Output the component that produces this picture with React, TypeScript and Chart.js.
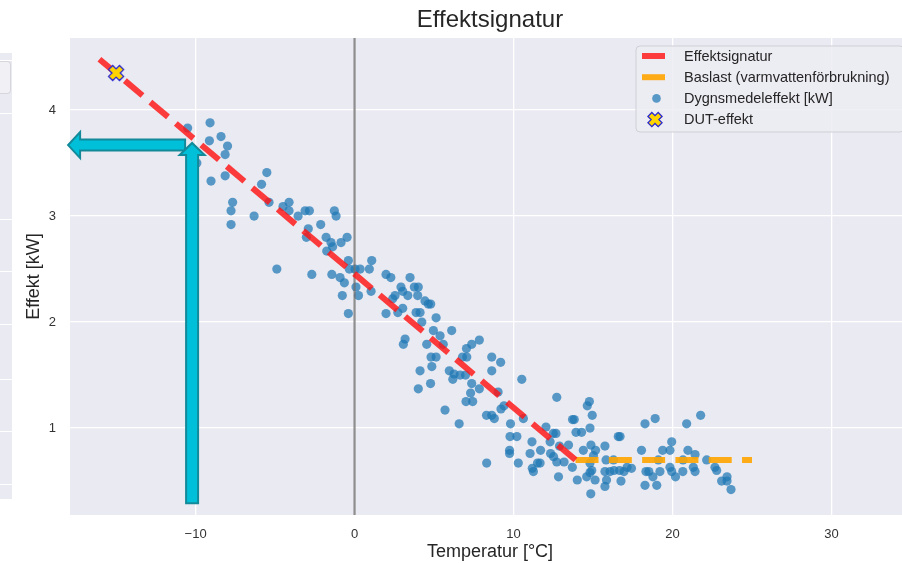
import React, { useEffect, useRef } from "react";
import { Chart, registerables } from "chart.js";

Chart.register(...registerables);

// ---------- data ----------
const temperatures = [
  -10.5, -9.09, -9.13, -8.4, -7.99, -8.14, -9.92, -9.03, -8.14, -5.52,
  -5.85, -7.67, -7.77, -7.77, -6.32, -5.38, -4.5, -4.12, -4.12, -3.55,
  -3.11, -2.84, -1.27, -1.16, -2.13, -2.91, -3.03, -1.79, -1.48, -1.38,
  -1.75, -0.85, -0.47, -0.39, -0.33, 0.03, 0.35, 1.08, 0.93, -4.89,
  -2.69, -1.43, -0.91, -0.64, -0.77, -0.39, 0.09, 0.25, 1.04, 1.98,
  2.28, 3.49, 2.92, 2.55, 2.4, 3.03, 3.35, 3.76, 4.01, 3.97,
  4.43, 4.64, 4.79, 1.98, 2.72, 3.03, 3.87, 4.12, 5.13, 4.23,
  4.96, 5.38, 6.11, 3.18, 3.07, 4.54, 5.58, 7.04, 7.37, 7.85,
  4.81, 5.13, 4.86, 5.96, 6.26, 6.18, 6.64, 6.98, 6.79, 7.06,
  4.12, 4.01, 4.78, 7.37, 7.3, 7.01, 7.43, 7.85, 5.69, 6.58,
  8.63, 9.19, 8.63, 9.03, 8.3, 8.63, 8.79, 9.21, 9.4, 10.52,
  9.81, 9.78, 10.21, 9.75, 9.75, 8.31, 10.3, 10.62, 11.16, 11.04,
  11.51, 11.18, 11.25, 11.7, 12.04, 12.5, 12.67, 12.33, 12.52, 12.72,
  12.72, 12.83, 12.89, 13.46, 13.18, 13.7, 13.71, 13.82, 13.93, 14.28,
  14.01, 14.39, 14.64, 14.77, 14.95, 14.81, 14.87, 15.16, 15.03, 14.81,
  14.92, 14.6, 14.81, 15.13, 14.86, 11.67, 12.3, 15.75, 16.59, 16.7,
  15.82, 16.29, 15.75, 16.07, 16.32, 16.67, 16.95, 17.14, 17.42, 15.85,
  15.75, 16.76, 18.05, 18.27, 18.91, 18.33, 18.51, 18.77, 18.27, 19.01,
  19.21, 19.11, 19.38, 19.84, 19.95, 19.84, 19.95, 20.19, 20.65, 20.66,
  20.89, 20.97, 21.42, 21.31, 21.42, 21.77, 22.15, 22.67, 22.78, 23.09,
  23.43, 23.43, 23.68,
];
const dailyPower = [
  3.83, 3.88, 3.71, 3.75, 3.66, 3.58, 3.5, 3.33, 3.38, 3.41,
  3.3, 3.13, 3.05, 2.92, 3.0, 3.13, 3.09, 3.13, 3.05, 3.0,
  3.05, 3.05, 3.05, 3.0, 2.92, 2.88, 2.8, 2.8, 2.75, 2.71,
  2.67, 2.75, 2.8, 2.58, 2.5, 2.5, 2.5, 2.58, 2.5, 2.5,
  2.45, 2.45, 2.42, 2.37, 2.25, 2.08, 2.33, 2.25, 2.29, 2.45,
  2.42, 2.42, 2.33, 2.25, 2.22, 2.29, 2.25, 2.33, 2.33, 2.25,
  2.2, 2.17, 2.17, 2.08, 2.09, 2.13, 2.09, 2.09, 2.04, 2.0,
  1.92, 1.87, 1.92, 1.84, 1.79, 1.79, 1.79, 1.75, 1.79, 1.83,
  1.67, 1.67, 1.58, 1.54, 1.51, 1.46, 1.5, 1.5, 1.67, 1.67,
  1.54, 1.37, 1.42, 1.42, 1.33, 1.25, 1.25, 1.37, 1.17, 1.04,
  1.67, 1.62, 1.54, 1.34, 1.12, 1.12, 1.09, 1.18, 1.21, 1.46,
  1.04, 0.92, 0.92, 0.79, 0.76, 0.67, 0.67, 1.09, 0.87, 0.76,
  0.67, 0.62, 0.59, 0.79, 1.01, 0.95, 0.95, 0.76, 0.73, 0.68,
  1.29, 0.54, 0.83, 0.84, 0.68, 0.63, 1.08, 1.08, 0.96, 0.96,
  0.51, 0.79, 1.21, 1.25, 1.12, 1.0, 0.84, 0.79, 0.74, 0.67,
  0.6, 0.54, 0.58, 0.51, 0.38, 0.67, 0.87, 0.83, 0.92, 0.92,
  0.7, 0.7, 0.59, 0.59, 0.6, 0.6, 0.59, 0.63, 0.62, 0.51,
  0.45, 0.5, 0.79, 1.04, 1.09, 0.59, 0.59, 0.54, 0.46, 0.46,
  0.59, 0.7, 0.79, 0.79, 0.87, 0.63, 0.59, 0.54, 0.59, 0.7,
  1.04, 0.79, 0.75, 0.63, 0.59, 1.12, 0.7, 0.63, 0.6, 0.5,
  0.54, 0.5, 0.42,
];

const signatureX = [-16.05, 13.9];
const signatureY = [4.48, 0.7];
const baseloadX = [13.9, 25.0];
const baseloadY = [0.7, 0.7];
const dutX = [-15.0];
const dutY = [4.35];
const zeroLineX = [0, 0];
const zeroLineY = [0.18, 4.68];

const arrowUpX = [-10.22, -10.22];
const arrowUpY = [0.29, 3.69];
const arrowLeftX = [-10.66, -18.02];
const arrowLeftY = [3.67, 3.67];

const xTicks = [-10, 0, 10, 20, 30];
const yTicks = [1, 2, 3, 4];
const xRange = [-17.9, 34.94];
const yRange = [0.18, 4.68];

const legendLabels = [
  "Effektsignatur",
  "Baslast (varmvattenförbrukning)",
  "Dygnsmedeleffekt [kW]",
  "DUT-effekt",
];
const chartTitle = "Effektsignatur";
const xTitle = "Temperatur [°C]";
const yTitle = "Effekt [kW]";

// ---------- styles ----------
const FONT = "'Liberation Sans', Arial, Helvetica, sans-serif";
const PLOT_BG = "#EAEAF2";
const RED = "rgba(255,20,20,0.82)";
const ORANGE = "rgba(255,165,0,0.9)";
const BLUE = "rgba(31,119,180,0.72)";
const TEXT = "#262626";
const ARROW_FILL = "#00BFD8";
const ARROW_EDGE = "#138A9A";

function drawXShape(ctx: CanvasRenderingContext2D, cx: number, cy: number, k: number) {
  const a = 0.19;
  const L = 0.5;
  const pts = [
    [a, a], [a, L], [-a, L], [-a, a], [-L, a], [-L, -a],
    [-a, -a], [-a, -L], [a, -L], [a, -a], [L, -a], [L, a],
  ];
  const c = Math.SQRT1_2;
  ctx.beginPath();
  pts.forEach(([px, py], i) => {
    const rx = (px - py) * c * k;
    const ry = (px + py) * c * k;
    if (i === 0) ctx.moveTo(cx + rx, cy + ry);
    else ctx.lineTo(cx + rx, cy + ry);
  });
  ctx.closePath();
  ctx.fillStyle = "#FFD400";
  ctx.fill();
  ctx.lineWidth = 1.3;
  ctx.strokeStyle = "#2B2BD0";
  ctx.stroke();
}

function makeXMarker(): HTMLCanvasElement {
  const c = document.createElement("canvas");
  c.width = 20;
  c.height = 20;
  const ctx = c.getContext("2d")!;
  drawXShape(ctx, 10, 10, 15.4);
  return c;
}

function drawArrow(
  ctx: CanvasRenderingContext2D,
  x1: number, y1: number, x2: number, y2: number,
  shaftW: number, headW: number, headL: number
) {
  const dx = x2 - x1, dy = y2 - y1;
  const len = Math.hypot(dx, dy);
  const ux = dx / len, uy = dy / len;
  const px = -uy, py = ux;
  const bx = x2 - ux * headL, by = y2 - uy * headL;
  const pts = [
    [x1 + px * shaftW / 2, y1 + py * shaftW / 2],
    [bx + px * shaftW / 2, by + py * shaftW / 2],
    [bx + px * headW / 2, by + py * headW / 2],
    [x2, y2],
    [bx - px * headW / 2, by - py * headW / 2],
    [bx - px * shaftW / 2, by - py * shaftW / 2],
    [x1 - px * shaftW / 2, y1 - py * shaftW / 2],
  ];
  ctx.beginPath();
  pts.forEach(([x, y], i) => (i === 0 ? ctx.moveTo(x, y) : ctx.lineTo(x, y)));
  ctx.closePath();
  ctx.fillStyle = ARROW_FILL;
  ctx.fill();
  ctx.lineWidth = 2;
  ctx.lineJoin = "miter";
  ctx.strokeStyle = ARROW_EDGE;
  ctx.stroke();
}

const bgPlugin = {
  id: "plotBg",
  beforeDraw(chart: any) {
    const { ctx, chartArea: a } = chart;
    ctx.save();
    ctx.fillStyle = PLOT_BG;
    ctx.fillRect(a.left, a.top, a.right - a.left, a.bottom - a.top);
    ctx.restore();
  },
};

const arrowPlugin = {
  id: "arrows",
  afterDatasetsDraw(chart: any) {
    const { ctx } = chart;
    const xs = chart.scales.x, ys = chart.scales.y;
    ctx.save();
    drawArrow(
      ctx,
      xs.getPixelForValue(arrowLeftX[0]), ys.getPixelForValue(arrowLeftY[0]),
      xs.getPixelForValue(arrowLeftX[1]), ys.getPixelForValue(arrowLeftY[1]),
      11, 26, 12
    );
    drawArrow(
      ctx,
      xs.getPixelForValue(arrowUpX[0]), ys.getPixelForValue(arrowUpY[0]),
      xs.getPixelForValue(arrowUpX[1]), ys.getPixelForValue(arrowUpY[1]),
      12, 25, 12
    );
    ctx.restore();
  },
};

const legendPlugin = {
  id: "customLegend",
  afterDraw(chart: any) {
    const { ctx, chartArea: a } = chart;
    const w = 268, h = 86;
    const left = a.right - 6 - w;
    const top = a.top + 8;
    ctx.save();
    ctx.beginPath();
    const r = 4;
    ctx.moveTo(left + r, top);
    ctx.lineTo(left + w - r, top);
    ctx.arcTo(left + w, top, left + w, top + r, r);
    ctx.lineTo(left + w, top + h - r);
    ctx.arcTo(left + w, top + h, left + w - r, top + h, r);
    ctx.lineTo(left + r, top + h);
    ctx.arcTo(left, top + h, left, top + h - r, r);
    ctx.lineTo(left, top + r);
    ctx.arcTo(left, top, left + r, top, r);
    ctx.closePath();
    ctx.fillStyle = "rgba(236,236,243,0.85)";
    ctx.fill();
    ctx.lineWidth = 1;
    ctx.strokeStyle = "#CFCFD6";
    ctx.stroke();

    const rowY = (i: number) => top + 10 + i * 21.2;
    ctx.lineCap = "butt";
    ctx.lineWidth = 6;
    ctx.strokeStyle = RED;
    ctx.beginPath();
    ctx.moveTo(left + 6, rowY(0));
    ctx.lineTo(left + 29, rowY(0));
    ctx.stroke();
    ctx.strokeStyle = ORANGE;
    ctx.beginPath();
    ctx.moveTo(left + 6, rowY(1));
    ctx.lineTo(left + 29, rowY(1));
    ctx.stroke();
    ctx.fillStyle = BLUE;
    ctx.beginPath();
    ctx.arc(left + 20.5, rowY(2), 4.3, 0, Math.PI * 2);
    ctx.fill();
    drawXShape(ctx, left + 19, rowY(3), 14.5);

    ctx.fillStyle = TEXT;
    ctx.font = `14.5px ${FONT}`;
    ctx.textBaseline = "middle";
    ctx.textAlign = "left";
    legendLabels.forEach((t, i) => ctx.fillText(t, left + 48, rowY(i) + 0.5));
    ctx.restore();
  },
};

const fmtTick = (v: number) => (v < 0 ? "\u2212" + Math.abs(v) : String(v));

const panelLines = [60, 113, 219, 271, 324, 379, 431, 484];

export default function App() {
  const canvasRef = useRef<HTMLCanvasElement | null>(null);

  useEffect(() => {
    if (!canvasRef.current) return;
    const marker = makeXMarker();
    const scatterPts = temperatures.map((t, i) => ({ x: t, y: dailyPower[i] }));
    const chart = new Chart(canvasRef.current, {
      type: "scatter",
      data: {
        datasets: [
          {
            label: legendLabels[3],
            data: dutX.map((x, i) => ({ x, y: dutY[i] })),
            pointStyle: marker as any,
            pointRadius: 9,
            order: 0,
          },
          {
            label: legendLabels[0],
            data: signatureX.map((x, i) => ({ x, y: signatureY[i] })),
            showLine: true,
            borderColor: RED,
            borderWidth: 6,
            borderDash: [23, 10.3],
            borderCapStyle: "butt",
            pointRadius: 0,
            order: 1,
          },
          {
            label: legendLabels[1],
            data: baseloadX.map((x, i) => ({ x, y: baseloadY[i] })),
            showLine: true,
            borderColor: ORANGE,
            borderWidth: 6,
            borderDash: [23, 10.3],
            borderCapStyle: "butt",
            pointRadius: 0,
            order: 2,
          },
          {
            label: "zero",
            data: zeroLineX.map((x, i) => ({ x, y: zeroLineY[i] })),
            showLine: true,
            borderColor: "rgba(105,105,105,0.75)",
            borderWidth: 2.2,
            pointRadius: 0,
            order: 3,
          },
          {
            label: legendLabels[2],
            data: scatterPts,
            backgroundColor: BLUE,
            borderWidth: 0,
            pointRadius: 4.6,
            order: 4,
          },
        ],
      },
      options: {
        responsive: false,
        animation: false,
        devicePixelRatio: 1,
        layout: { padding: 0 },
        events: [],
        plugins: {
          legend: { display: false },
          tooltip: { enabled: false },
          title: {
            display: true,
            text: chartTitle,
            fullSize: false,
            color: TEXT,
            font: { family: FONT, size: 24, weight: "normal" },
            padding: { top: 6, bottom: 3.2 },
          },
        },
        scales: {
          x: {
            type: "linear",
            min: xRange[0],
            max: xRange[1],
            afterBuildTicks: (s: any) => {
              s.ticks = xTicks.map((v) => ({ value: v }));
            },
            afterFit: (s: any) => {
              s.height = 48;
            },
            grid: { color: "#ffffff", lineWidth: 1.3, drawTicks: false },
            border: { display: false },
            ticks: {
              padding: 12,
              color: "#333333",
              font: { family: FONT, size: 13 },
              callback: (v: any) => fmtTick(Number(v)),
            },
            title: {
              display: true,
              text: xTitle,
              color: TEXT,
              font: { family: FONT, size: 18 },
              padding: { top: 0, bottom: 0 },
            },
          },
          y: {
            type: "linear",
            min: yRange[0],
            max: yRange[1],
            afterBuildTicks: (s: any) => {
              s.ticks = yTicks.map((v) => ({ value: v }));
            },
            afterFit: (s: any) => {
              s.width = 70;
            },
            grid: { color: "#ffffff", lineWidth: 1.3, drawTicks: false },
            border: { display: false },
            ticks: {
              padding: 14,
              color: "#333333",
              font: { family: FONT, size: 13 },
              callback: (v: any) => fmtTick(Number(v)),
            },
            title: {
              display: true,
              text: yTitle,
              color: TEXT,
              font: { family: FONT, size: 18 },
              padding: { top: 23, bottom: 0 },
            },
          },
        },
      } as any,
      plugins: [bgPlugin, arrowPlugin, legendPlugin],
    });
    return () => chart.destroy();
  }, []);

  return (
    <div
      style={{
        position: "absolute",
        left: 0,
        top: 0,
        width: 902,
        height: 563,
        overflow: "hidden",
        background: "#ffffff",
      }}
    >
      <div
        style={{
          position: "absolute",
          left: 0,
          top: 53,
          width: 12,
          height: 446,
          background: PLOT_BG,
        }}
      >
        <div
          style={{
            position: "absolute",
            left: 0,
            top: 8,
            width: 10,
            height: 31,
            background: "#F1F1F5",
            border: "1px solid #D6D6DC",
            borderLeft: "none",
            borderRadius: "0 4px 4px 0",
          }}
        />
        {panelLines.map((y) => (
          <div
            key={y}
            style={{
              position: "absolute",
              left: 0,
              top: y - 53,
              width: 12,
              height: 1,
              background: "#ffffff",
            }}
          />
        ))}
      </div>
      <canvas
        ref={canvasRef}
        width={920}
        height={563}
        style={{ position: "absolute", left: 0, top: 0, display: "block" }}
      />
    </div>
  );
}
